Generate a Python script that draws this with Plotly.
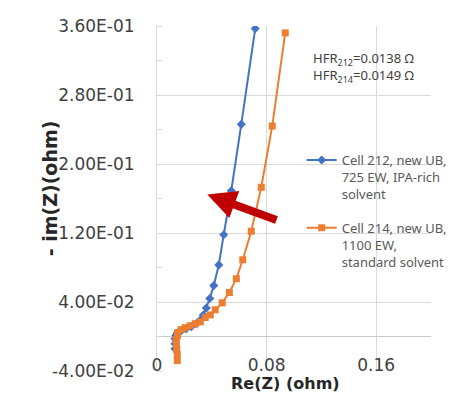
import plotly.graph_objects as go

# ---- data ----
cell212_re = [0.0131, 0.0131, 0.0131, 0.0138, 0.0148, 0.0177, 0.0214, 0.0250, 0.0287,
              0.0316, 0.0338, 0.0360, 0.0385, 0.0414, 0.0451, 0.0487, 0.0542, 0.0615, 0.0717]
cell212_im = [-0.0142, -0.0084, -0.0026, 0.0015, 0.0044, 0.0067, 0.0090, 0.0114, 0.0149,
              0.019, 0.025, 0.033, 0.044, 0.059, 0.083, 0.118, 0.169, 0.246, 0.357]

cell214_re = [0.0148, 0.0148, 0.0144, 0.0141, 0.0141, 0.0149, 0.0150, 0.0177, 0.0206, 0.0243,
              0.0279, 0.0316, 0.0352, 0.0389, 0.0425, 0.0476, 0.0528, 0.0579, 0.0626,
              0.0688, 0.0761, 0.0841, 0.0936]
cell214_im = [-0.028, -0.021, -0.0153, -0.0095, -0.0037, 0.0009, 0.0044, 0.0079, 0.0102, 0.0125,
              0.0148, 0.017, 0.022, 0.025, 0.031, 0.039, 0.051, 0.067, 0.089,
              0.122, 0.173, 0.244, 0.352]

name212 = "Cell 212, new UB,<br>725 EW, IPA-rich<br>solvent"
name214 = "Cell 214, new UB,<br>1100 EW,<br>standard solvent"

y_tickvals = [-0.04, 0.04, 0.12, 0.20, 0.28, 0.36]
y_ticktext = ["-4.00E-02", "4.00E-02", "1.20E-01", "2.00E-01", "2.80E-01", "3.60E-01"]
x_tickvals = [0, 0.08, 0.16]
x_ticktext = ["0", "0.08", "0.16"]

hfr_text = "HFR<sub>212</sub>=0.0138 Ω<br>HFR<sub>214</sub>=0.0149 Ω"

BLUE = "#4472C4"
ORANGE = "#ED7D31"
GRID = "#D9D9D9"

fig = go.Figure()
fig.add_trace(go.Scatter(x=cell212_re, y=cell212_im, name=name212, mode="lines+markers",
                         legendgroup="a",
                         line=dict(color=BLUE, width=2),
                         marker=dict(symbol="diamond", size=7, color=BLUE)))
fig.add_trace(go.Scatter(x=cell214_re, y=cell214_im, name=name214, mode="lines+markers",
                         legendgroup="b",
                         line=dict(color=ORANGE, width=2),
                         marker=dict(symbol="square", size=7, color=ORANGE)))

fig.update_layout(
    width=449, height=393,
    margin=dict(l=157, r=18, t=26, b=22, autoexpand=False),
    paper_bgcolor="white", plot_bgcolor="white",
    font=dict(family="DejaVu Sans", color="#404040"),
    showlegend=True,
    legend=dict(x=0.528, y=0.655, xanchor="left", yanchor="top",
                bgcolor="rgba(0,0,0,0)", valign="top",
                font=dict(family="Noto Sans", size=13, color="#595959"),
                tracegroupgap=14),
    xaxis=dict(range=[0, 0.2], tickvals=x_tickvals, ticktext=x_ticktext,
               showgrid=True, gridcolor=GRID, gridwidth=1, zeroline=False,
               showline=False, ticks="", ticklabelstandoff=-18,
               tickfont=dict(family="DejaVu Sans", size=17, color="#404040")),
    yaxis=dict(range=[-0.04, 0.36], tickvals=y_tickvals, ticktext=y_ticktext,
               showgrid=True, gridcolor=GRID, gridwidth=1,
               zeroline=True, zerolinecolor="#C8C8C8", zerolinewidth=1,
               showline=True, linecolor=GRID, linewidth=1, ticks="",
               ticklabelstandoff=18,
               minor=dict(ticks="inside", dtick=0.04, tick0=0, ticklen=5, tickcolor=GRID,
                          showgrid=False),
               tickfont=dict(family="DejaVu Sans", size=17, color="#404040")),
    shapes=[dict(type="rect", xref="paper", yref="paper", x0=0.004, x1=0.85,
                 y0=-0.02, y1=0.041, fillcolor="white", line=dict(width=0),
                 layer="between")],
    annotations=[
        dict(text=hfr_text, xref="paper", yref="paper", x=0.562, y=0.881,
             xanchor="left", yanchor="middle", align="left", showarrow=False,
             font=dict(family="Noto Sans", size=13, color="#404040")),
        dict(text="Re(Z) (ohm)", xref="paper", yref="paper", x=0.47, y=-0.036,
             xanchor="center", yanchor="middle", showarrow=False,
             font=dict(family="DejaVu Sans", size=16, color="#262626", weight="bold")),
        dict(text="- im(Z)(ohm)", xref="paper", yref="paper", x=-0.39, y=0.53,
             xanchor="center", yanchor="middle", textangle=-90, showarrow=False,
             font=dict(family="DejaVu Sans", size=19, color="#262626", weight="bold")),
        dict(text="", x=0.0367, y=0.1645, xref="x", yref="y",
             ax=0.0883, ay=0.1343, axref="x", ayref="y",
             showarrow=True, arrowhead=2, arrowwidth=8, arrowsize=0.72,
             arrowcolor="#C00000"),
    ],
)

fig.write_html("out.html")
